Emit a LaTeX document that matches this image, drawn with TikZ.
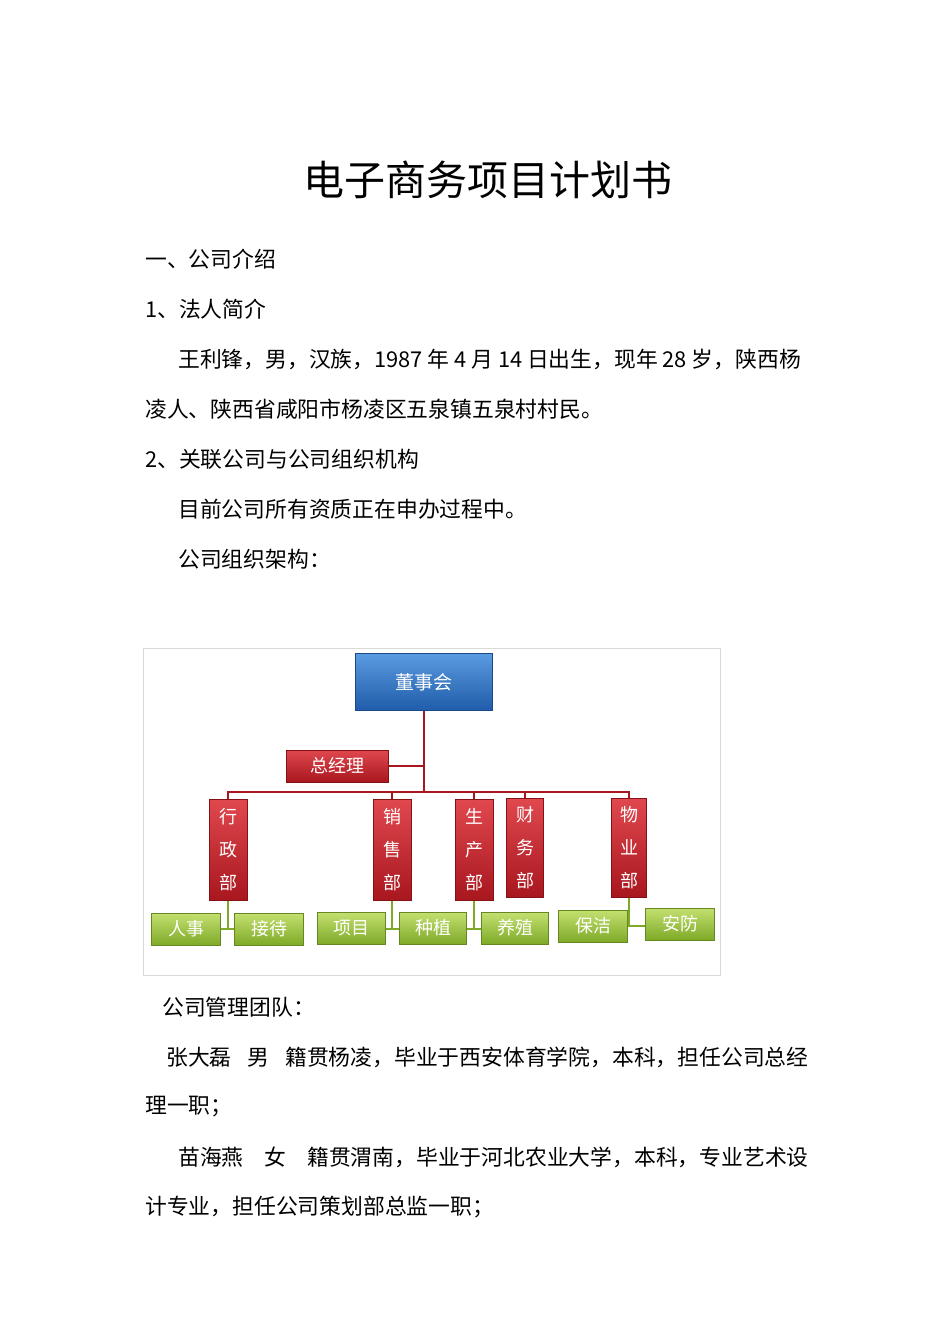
\documentclass[tikz,border=0pt]{standalone}
\usepackage{fontspec}
\setmainfont{Liberation Serif}
\newfontfamily\cjk{Noto Sans CJK SC}
\definecolor{bt}{HTML}{5B9BE0}\definecolor{bb}{HTML}{1F5CAA}
\definecolor{rt}{HTML}{E0484E}\definecolor{rb}{HTML}{A8161E}
\definecolor{gt}{HTML}{C4E070}\definecolor{gb}{HTML}{7EAA28}
\begin{document}
\begin{tikzpicture}[x=1pt,y=-1pt,
  body/.style={anchor=west,inner sep=0,font=\cjk\fontsize{21.8}{22}\selectfont},
  bx/.style={draw=#1,line width=0.6pt,text=white,inner sep=0,align=center},
  blue/.style={bx=bb!80!black,top color=bt,bottom color=bb,font=\cjk\fontsize{19}{20}\selectfont},
  red/.style={bx=rb!80!black,top color=rt,bottom color=rb,font=\cjk\fontsize{18}{33}\selectfont},
  green/.style={bx=gb!80!black,top color=gt,bottom color=gb,font=\cjk\fontsize{18}{20}\selectfont},
  link/.style={draw=rb,line width=1.3pt},
  glink/.style={draw=gb,line width=1.3pt}]
\useasboundingbox (0,0) rectangle (950,1344);
\node[font=\cjk\fontsize{41}{42}\selectfont] (title) at (488,180) {电子商务项目计划书};
\node[body] (l1) at (145,259) {一、公司介绍};
\node[body] (l2) at (145,309) {1、法人简介};
\node[body] (l3) at (178,359) {王利锋，男，汉族，1987 年 4 月 14 日出生，现年 28 岁，陕西杨};
\node[body] (l4) at (145,409) {凌人、陕西省咸阳市杨凌区五泉镇五泉村村民。};
\node[body] (l5) at (145,459) {2、关联公司与公司组织机构};
\node[body] (l6) at (178,509) {目前公司所有资质正在申办过程中。};
\node[body] (l7) at (178,559) {公司组织架构：};
\node[draw=black!15,minimum width=577,minimum height=327,anchor=north west,inner sep=0] (frame) at (143,648) {};
\draw[link] (424,711) -- (424,792);
\draw[link] (228,800) |- (629,792) -- (629,800);
\draw[link] (392,792) -- (392,800);
\draw[link] (474,792) -- (474,800);
\draw[link] (525,792) -- (525,800);
\draw[link] (388,766) -- (424,766);
\draw[glink] (228,901) -- (228,929); \draw[glink] (221,929) -- (235,929);
\draw[glink] (392,901) -- (392,929); \draw[glink] (385,929) -- (400,929);
\draw[glink] (474,901) -- (474,929); \draw[glink] (467,929) -- (482,929);
\draw[glink] (629,896) -- (629,926); \draw[glink] (628,926) -- (646,926);
\node[blue,minimum width=137,minimum height=57] (board) at (424,682) {董事会};
\node[red,minimum width=102,minimum height=32] (gm) at (337,766) {总经理};
\node[red,minimum width=38,minimum height=101] (d1) at (228,850) {行\\政\\部};
\node[red,minimum width=38,minimum height=101] (d2) at (392,850) {销\\售\\部};
\node[red,minimum width=38,minimum height=101] (d3) at (474,850) {生\\产\\部};
\node[red,minimum width=37,minimum height=99] (d4) at (525,848) {财\\务\\部};
\node[red,minimum width=35,minimum height=99] (d5) at (629,848) {物\\业\\部};
\node[green,minimum width=69,minimum height=32] (g1) at (186,929) {人事};
\node[green,minimum width=69,minimum height=32] (g2) at (269,929) {接待};
\node[green,minimum width=68,minimum height=32] (g3) at (351,928) {项目};
\node[green,minimum width=67,minimum height=32] (g4) at (433,928) {种植};
\node[green,minimum width=67,minimum height=32] (g5) at (515,928) {养殖};
\node[green,minimum width=69,minimum height=32] (g6) at (593,926) {保洁};
\node[green,minimum width=69,minimum height=32] (g7) at (680,924) {安防};
\node[body] (m1) at (162,1007) {公司管理团队：};
\node[body] (m2) at (166,1057) {张大磊\hspace{16pt}男\hspace{16pt}籍贯杨凌，毕业于西安体育学院，本科，担任公司总经};
\node[body] (m3) at (145,1107) {理一职；};
\node[body] (m4) at (178,1157) {苗海燕\hspace{21pt}女\hspace{21pt}籍贯渭南，毕业于河北农业大学，本科，专业艺术设};
\node[body] (m5) at (145,1207) {计专业，担任公司策划部总监一职；};
\end{tikzpicture}
\end{document}
